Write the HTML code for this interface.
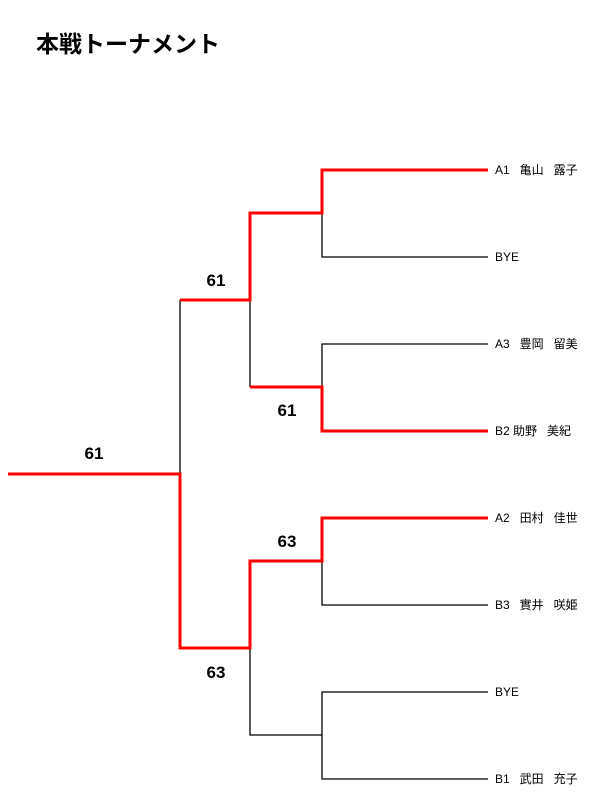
<!DOCTYPE html>
<html><head><meta charset="utf-8"><style>
body{margin:0;background:#fff;}
svg{display:block;}
text{font-family:"Liberation Sans","Noto Sans CJK JP",sans-serif;}
.n{font-size:12px;fill:#000;}
.s{font-size:17px;font-weight:bold;fill:#000;}
</style></head><body>
<svg width="600" height="800" viewBox="0 0 600 800">
<text x="36" y="52" style="font-size:23px;font-weight:bold;font-family:'Liberation Sans','Noto Sans CJK JP',sans-serif">本戦トーナメント</text>
<g fill="none" stroke="#000" stroke-width="1.3">
<path d="M322 213V257H488"/>
<path d="M488 344H322V387"/>
<path d="M250 300V387"/>
<path d="M180 300V474"/>
<path d="M322 561V605H488"/>
<path d="M250 648V735H322"/>
<path d="M488 692H322V779H488"/>
</g>
<g fill="none" stroke="#f00" stroke-width="3" stroke-linejoin="miter">
<path d="M488 170H322V213H250V300H180"/>
<path d="M488 431H322V387H250"/>
<path d="M488 518H322V561H250V648H180V474H8"/>
</g>
<g class="n">
<text x="495" y="174">A1&#160;&#160;&#160;亀山&#160;&#160;&#160;露子</text>
<text x="495" y="261">BYE</text>
<text x="495" y="348">A3&#160;&#160;&#160;豊岡&#160;&#160;&#160;留美</text>
<text x="495" y="435">B2 助野&#160;&#160;&#160;美紀</text>
<text x="495" y="522">A2&#160;&#160;&#160;田村&#160;&#160;&#160;佳世</text>
<text x="495" y="609">B3&#160;&#160;&#160;實井&#160;&#160;&#160;咲姫</text>
<text x="495" y="696">BYE</text>
<text x="495" y="783">B1&#160;&#160;&#160;武田&#160;&#160;&#160;充子</text>
</g>
<g class="s" text-anchor="middle">
<text x="216" y="286">61</text>
<text x="287" y="416">61</text>
<text x="94" y="459">61</text>
<text x="287" y="547">63</text>
<text x="216" y="678">63</text>
</g>
</svg>
</body></html>
